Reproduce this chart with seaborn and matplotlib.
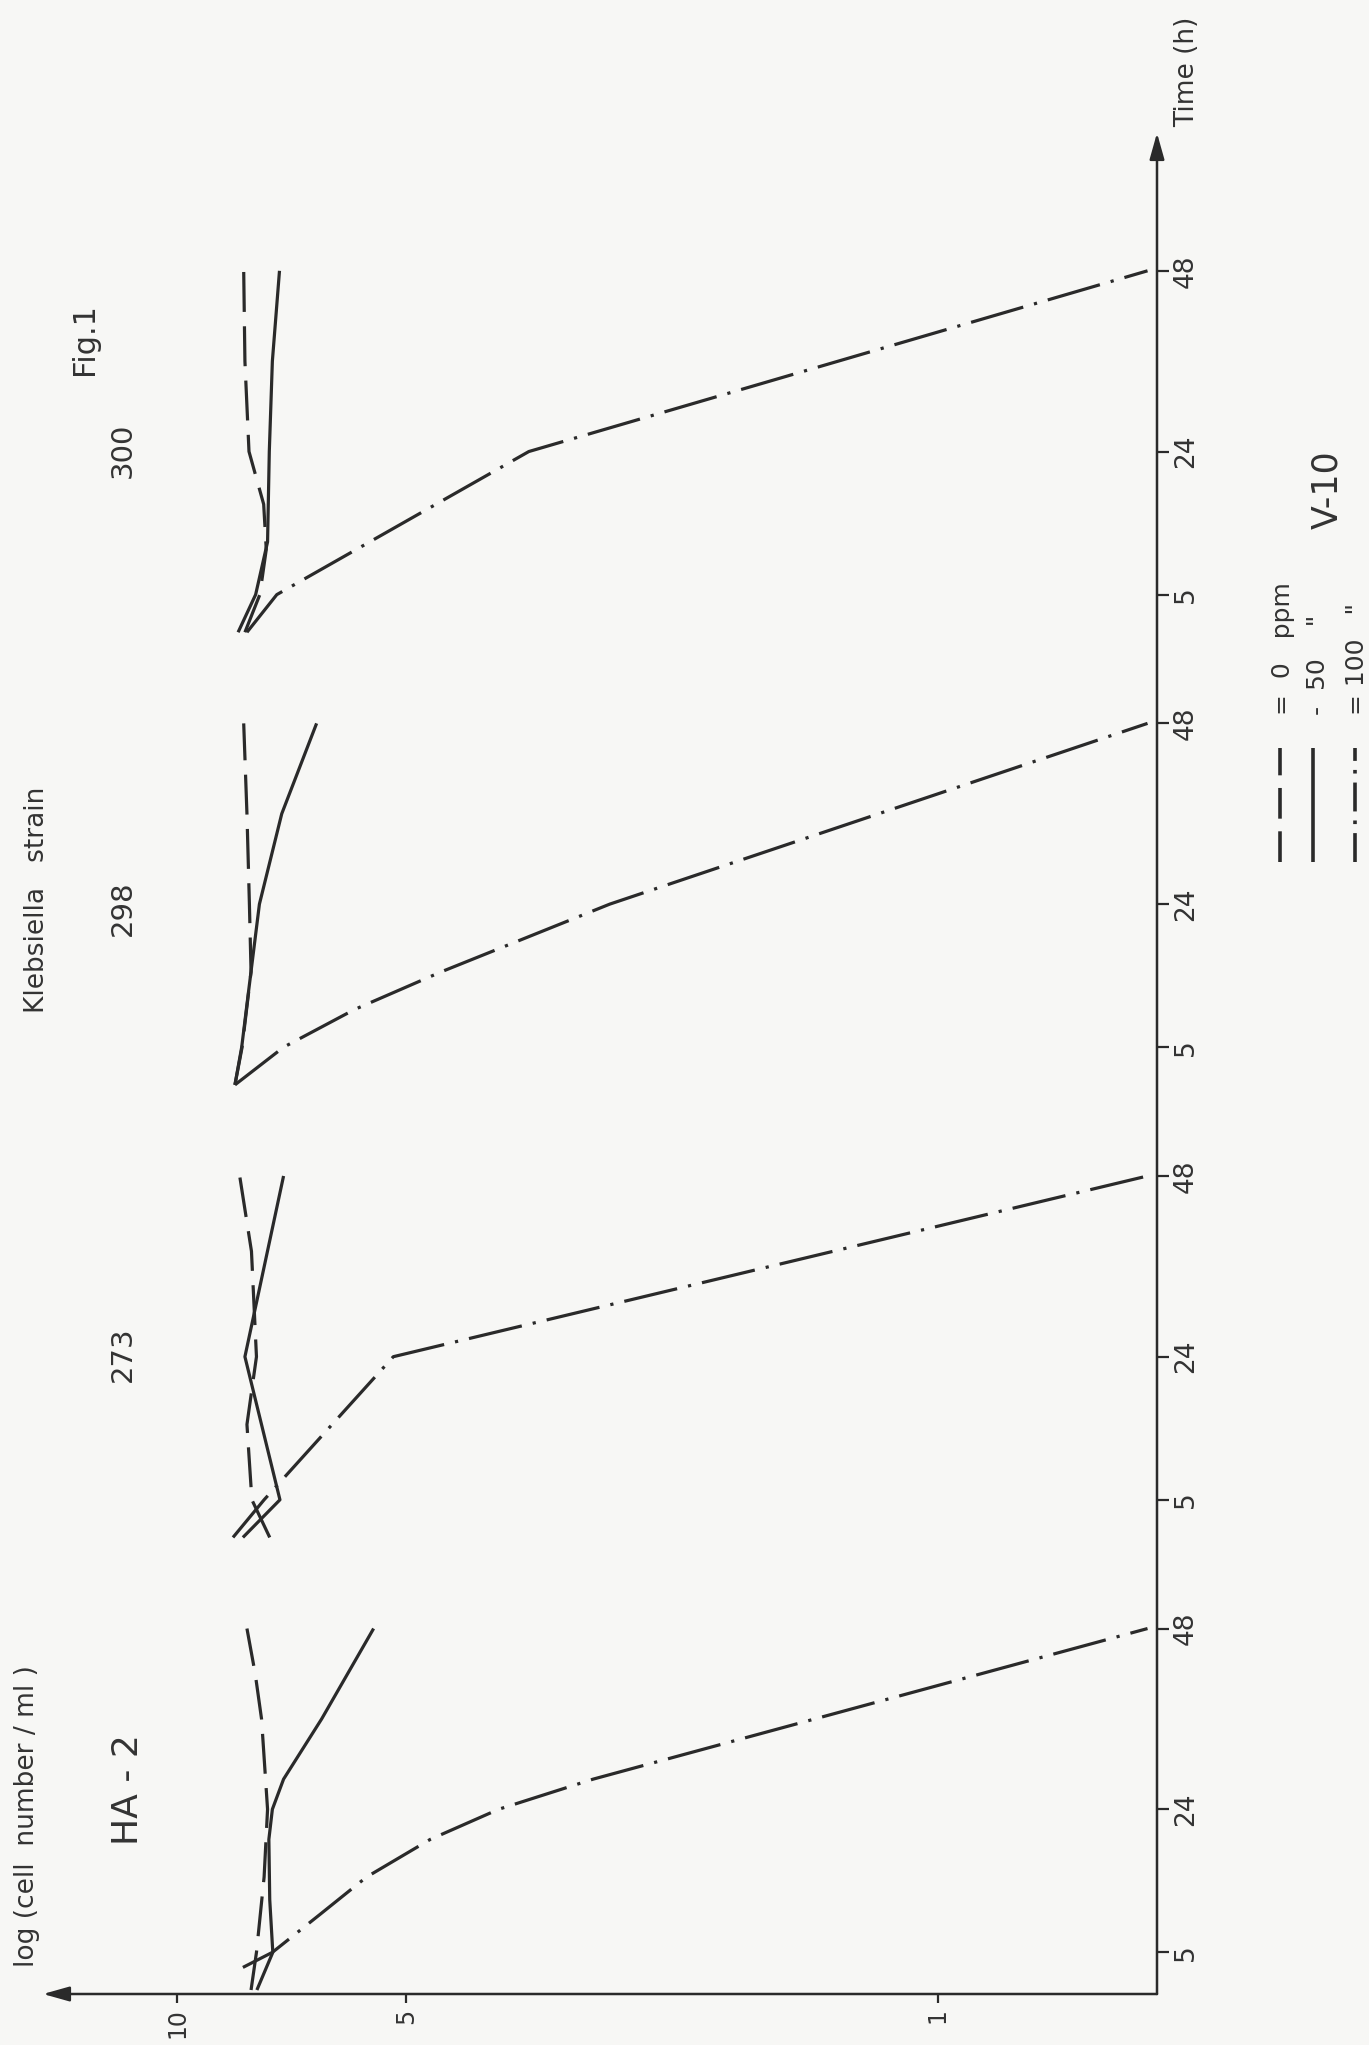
import matplotlib
matplotlib.use("Agg")
import matplotlib.pyplot as plt
from matplotlib.lines import Line2D
from matplotlib.ticker import NullLocator
import numpy as np
import pandas as pd
import seaborn as sns

# ---------------- data ----------------
strains = ["HA - 2", "273", "298", "300"]          # bottom -> top
concentrations = ["0 ppm", "50 ppm", "100 ppm"]

# HA-2
ha2_0ppm_time = [0, 5, 15, 24, 36, 42, 48]
ha2_0ppm_count = [8.0, 7.87, 7.69, 7.61, 7.75, 7.9, 8.1]
ha2_50ppm_time = [0, 5, 12, 20, 24, 28, 36, 48]
ha2_50ppm_count = [7.86, 7.49, 7.56, 7.58, 7.5, 7.25, 6.46, 5.52]
ha2_100ppm_time = [3, 5, 10, 15, 20, 24, 28, 48]
ha2_100ppm_count = [8.2, 7.5, 6.5, 5.64, 4.65, 3.78, 2.84, 0.53]
# 273
s273_0ppm_time = [0, 5, 15, 24, 38, 48]
s273_0ppm_count = [7.56, 7.98, 8.1, 7.87, 7.99, 8.28]
s273_50ppm_time = [0, 5, 24, 48]
s273_50ppm_count = [8.2, 7.33, 8.15, 7.25]
s273_100ppm_time = [0, 5, 24, 48]
s273_100ppm_count = [8.45, 7.69, 5.2, 0.53]
# 298
s298_0ppm_time = [0, 5, 15, 24, 36, 48]
s298_0ppm_count = [8.4, 8.22, 8.0, 8.04, 8.1, 8.18]
s298_50ppm_time = [0, 5, 12, 24, 36, 48]
s298_50ppm_count = [8.4, 8.23, 8.07, 7.8, 7.29, 6.56]
s298_100ppm_time = [0, 5, 10, 15, 24, 48]
s298_100ppm_count = [8.4, 7.25, 5.85, 4.5, 2.7, 0.53]
# 300
s300_0ppm_time = [0, 5, 11, 17, 24, 36, 48]
s300_0ppm_count = [8.15, 7.79, 7.64, 7.7, 8.05, 8.15, 8.18]
s300_50ppm_time = [0, 5, 12, 24, 36, 48]
s300_50ppm_count = [8.32, 7.89, 7.61, 7.57, 7.5, 7.34]
s300_100ppm_time = [0, 5, 24, 48]
s300_100ppm_count = [8.1, 7.4, 3.45, 0.53]

time_ticks = [5, 24, 48]
time_tick_labels = ["5", "24", "48"]
count_ticks = [10, 5, 1]
count_tick_labels = ["10", "5", "1"]

series = {
    ("HA - 2", "0 ppm"): (ha2_0ppm_time, ha2_0ppm_count),
    ("HA - 2", "50 ppm"): (ha2_50ppm_time, ha2_50ppm_count),
    ("HA - 2", "100 ppm"): (ha2_100ppm_time, ha2_100ppm_count),
    ("273", "0 ppm"): (s273_0ppm_time, s273_0ppm_count),
    ("273", "50 ppm"): (s273_50ppm_time, s273_50ppm_count),
    ("273", "100 ppm"): (s273_100ppm_time, s273_100ppm_count),
    ("298", "0 ppm"): (s298_0ppm_time, s298_0ppm_count),
    ("298", "50 ppm"): (s298_50ppm_time, s298_50ppm_count),
    ("298", "100 ppm"): (s298_100ppm_time, s298_100ppm_count),
    ("300", "0 ppm"): (s300_0ppm_time, s300_0ppm_count),
    ("300", "50 ppm"): (s300_50ppm_time, s300_50ppm_count),
    ("300", "100 ppm"): (s300_100ppm_time, s300_100ppm_count),
}

# ---------------- layout ----------------
PERIOD = 60.1   # spacing of the stacked time axes (hours of axis length)
W, H = 1369, 2045
ink = "#2a2a2a"
txt = "#333333"
bg = "#f7f7f5"

records = []
for k, strain in enumerate(strains):
    for conc in concentrations:
        t, v = series[(strain, conc)]
        for ti, vi in zip(t, v):
            records.append(dict(strain=strain, conc=conc, time=ti, count=vi,
                                unit=f"{strain}|{conc}", pos=ti + PERIOD * k))
df = pd.DataFrame(records)

sns.set_theme(style="white")
plt.rcParams["font.family"] = ["DejaVu Sans"]
plt.rcParams["lines.solid_capstyle"] = "butt"
plt.rcParams["lines.dash_capstyle"] = "butt"

fig = plt.figure(figsize=(W / 100, H / 100), dpi=100, facecolor=bg)
ax = fig.add_axes([43 / W, 1 - 1994 / H, (1157 - 43) / W, (1994 - 133) / H])
ax.set_facecolor("none")

dash_map = {"0 ppm": (12.5, 4.5), "50 ppm": "", "100 ppm": (17, 3.5, 1, 3.5)}
sns.lineplot(data=df, x="count", y="pos", style="conc", style_order=concentrations,
             units="unit", estimator=None, sort=False, dashes=dash_map,
             color=ink, linewidth=2.3, legend=False, ax=ax)

ax.set_xscale("log")
ax.set_xlim(15.02, 0.515)
ax.set_ylim(-0.53, 246.6)
ax.set_xlabel("")
ax.set_ylabel("")
for s in ax.spines.values():
    s.set_visible(False)
ax.grid(False)

# x (cell number) ticks
ax.set_xticks(count_ticks)
ax.set_xticklabels(count_tick_labels, rotation=90, color=txt, fontsize=17)
ax.xaxis.set_minor_locator(NullLocator())
ax.tick_params(axis="x", which="major", direction="out", length=6.5, width=1.6,
               color=ink, pad=4, bottom=True)

# y (time) ticks, one set per strain
ax.yaxis.tick_right()
ypos, ylab = [], []
for k in range(len(strains)):
    for t, lab in zip(time_ticks, time_tick_labels):
        ypos.append(t + PERIOD * k)
        ylab.append(lab)
ax.set_yticks(ypos)
ax.set_yticklabels(ylab, rotation=90, va="center", color=txt, fontsize=19)
ax.tick_params(axis="y", which="major", direction="out", length=8.5, width=1.6,
               color=ink, pad=3, right=True, left=False)

# axis lines with arrow heads
arrow = dict(arrowstyle="-|>,head_length=1.6,head_width=0.45", lw=1.8, color=ink,
             mutation_scale=10, shrinkA=0, shrinkB=0)
ax.annotate("", xy=(1, 1), xytext=(1, 0), xycoords="axes fraction",
            textcoords="axes fraction", arrowprops=arrow, annotation_clip=False)
ax.annotate("", xy=(0, 0), xytext=(1, 0), xycoords="axes fraction",
            textcoords="axes fraction", arrowprops=arrow, annotation_clip=False)


def fx(x):
    return x / W


def fy(y):
    return 1 - y / H


# texts
fig.text(fx(27), fy(1967), "log (cell  number / ml )", rotation=90, ha="center",
         va="bottom", fontsize=19, color=txt)
fig.text(fx(37), fy(900), "Klebsiella   strain", rotation=90, ha="center",
         va="center", fontsize=19, color=txt)
fig.text(fx(85), fy(339), "Fig.1", rotation=90, ha="center", va="center",
         fontsize=22, color=txt)
label_y = {"HA - 2": 1790, "273": 1354, "298": 908, "300": 450}
for strain in strains:
    big = strain == "HA - 2"
    fig.text(fx(128 if big else 123), fy(label_y[strain]), strain, rotation=90,
             ha="center", va="center", fontsize=26 if big else 21, color=txt)
fig.text(fx(1187), fy(72), "Time (h)", rotation=90, ha="center", va="center",
         fontsize=19, color=txt)
fig.text(fx(1327), fy(490), "V-10", rotation=90, ha="center", va="center",
         fontsize=25, color=txt)

# legend (drawn rotated like the rest of the figure)
leg_x = [1280, 1313, 1355]
leg_txt_x = [1283, 1318, 1357]
leg_text = ["=  0   ppm", "-  50    \"", "= 100   \""]
leg_dash = [(8.5, 3.5), None, (8, 2.5, 1, 2.5)]
for lx, tx, s, d in zip(leg_x, leg_txt_x, leg_text, leg_dash):
    ln = Line2D([fx(lx), fx(lx)], [fy(862), fy(748)], transform=fig.transFigure,
                color=ink, lw=2.6, solid_capstyle="butt", dash_capstyle="butt")
    if d is not None:
        ln.set_dashes(d)
    fig.add_artist(ln)
    fig.text(fx(tx), fy(715), s, rotation=90, ha="center", va="bottom",
             fontsize=18, color=txt)

fig.savefig("out.png", dpi=100, facecolor=bg)
